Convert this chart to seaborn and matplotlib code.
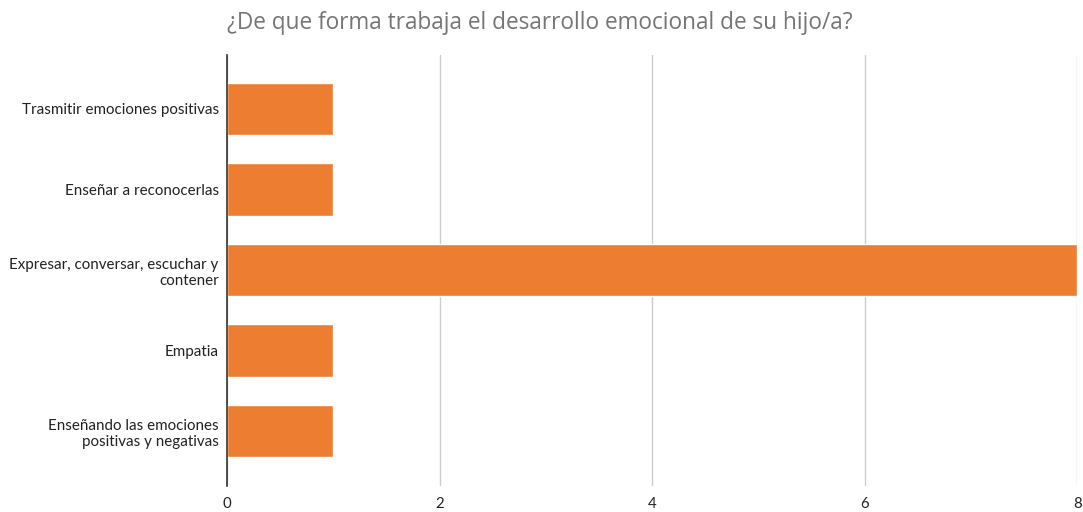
import matplotlib
matplotlib.use("Agg")
import matplotlib.pyplot as plt
import seaborn as sns
import pandas as pd

categories = [
    "Trasmitir emociones positivas",
    "Enseñar a reconocerlas",
    "Expresar, conversar, escuchar y\ncontener",
    "Empatia",
    "Enseñando las emociones\npositivas y negativas",
]
values = [1, 1, 8, 1, 1]
xticks = [0, 2, 4, 6, 8]
title = "¿De que forma trabaja el desarrollo emocional de su hijo/a?"

df = pd.DataFrame({"cat": categories, "val": values})

sns.set_theme(style="white")
plt.rcParams["font.family"] = ["Lato", "DejaVu Sans"]

fig = plt.figure(figsize=(10.83, 5.12), dpi=100)
ax = fig.add_axes([0.2096, 0.0508, 0.785, 0.8418])

sns.barplot(data=df, y="cat", x="val", orient="h", color="#ED7D31",
            saturation=1, width=0.65, ax=ax)

ax.set_xlim(0, 8)
ax.set_ylim(4.68, -0.67)
ax.set_xticks(xticks)
ax.set_xticklabels([str(t) for t in xticks], fontsize=10.8, color="#222222")
ax.tick_params(axis="y", labelsize=10.9, colors="#222222", length=0, pad=6)
ax.tick_params(axis="x", length=0, pad=8)
for lbl in ax.get_yticklabels():
    lbl.set_horizontalalignment("right")
    lbl.set_multialignment("right")
ax.set_xlabel("")
ax.set_ylabel("")
ax.grid(axis="x", color="#cccccc", linewidth=1)
ax.set_axisbelow(True)
for s in ["top", "right", "bottom"]:
    ax.spines[s].set_visible(False)
ax.spines["left"].set_color("#333333")
ax.spines["left"].set_linewidth(1.2)
ax.spines["left"].set_zorder(5)

fig.text(0.2096, 0.955, title, fontsize=16.3, color="#757575",
         family=["Open Sans", "DejaVu Sans"], ha="left", va="center")

fig.savefig("out.png", dpi=100)
